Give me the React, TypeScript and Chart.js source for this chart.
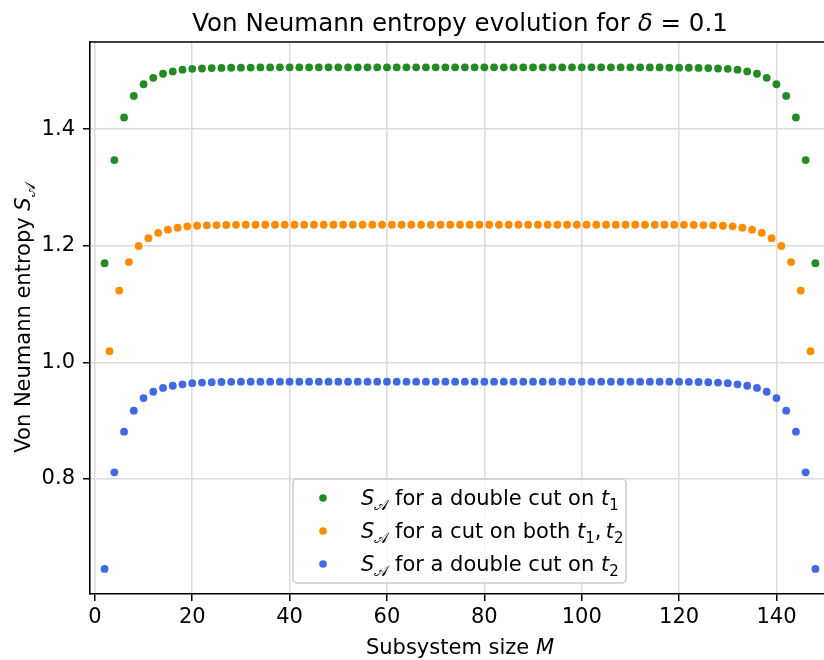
import React, { useEffect, useRef } from "react";
import { Chart, registerables } from "chart.js";
Chart.register(...registerables);

// Subsystem sizes M
const EVEN_M = [2, 4, 6, 8, 10, 12, 14, 16, 18, 20, 22, 24, 26, 28, 30, 32, 34, 36, 38, 40, 42, 44, 46, 48, 50, 52, 54, 56, 58, 60, 62, 64, 66, 68, 70, 72, 74, 76, 78, 80, 82, 84, 86, 88, 90, 92, 94, 96, 98, 100, 102, 104, 106, 108, 110, 112, 114, 116, 118, 120, 122, 124, 126, 128, 130, 132, 134, 136, 138, 140, 142, 144, 146, 148];
const ODD_M = [3, 5, 7, 9, 11, 13, 15, 17, 19, 21, 23, 25, 27, 29, 31, 33, 35, 37, 39, 41, 43, 45, 47, 49, 51, 53, 55, 57, 59, 61, 63, 65, 67, 69, 71, 73, 75, 77, 79, 81, 83, 85, 87, 89, 91, 93, 95, 97, 99, 101, 103, 105, 107, 109, 111, 113, 115, 117, 119, 121, 123, 125, 127, 129, 131, 133, 135, 137, 139, 141, 143, 145, 147];

// S_A for a double cut on t1 (at EVEN_M)
const DOUBLE_CUT_T1 = [
  1.170, 1.347, 1.420, 1.457, 1.477, 1.488, 1.495, 1.499, 1.502, 1.5035, 1.504, 1.5047, 1.505, 1.5053, 1.5055, 1.5057, 1.5058, 1.5059,
  1.506, 1.506, 1.506, 1.506, 1.506, 1.506, 1.506, 1.506, 1.506, 1.506, 1.506, 1.506, 1.506, 1.506, 1.506, 1.506, 1.506, 1.506, 1.506,
  1.506, 1.506, 1.506, 1.506, 1.506, 1.506, 1.506, 1.506, 1.506, 1.506, 1.506, 1.506, 1.506, 1.506, 1.506, 1.506, 1.506, 1.506, 1.506,
  1.5059, 1.5058, 1.5057, 1.5055, 1.5053, 1.505, 1.5047, 1.504, 1.5035, 1.502, 1.499, 1.495, 1.488, 1.477, 1.457, 1.420, 1.347, 1.170,
];

// S_A for a cut on both t1, t2 (at ODD_M)
const CUT_BOTH = [
  1.019, 1.123, 1.172, 1.1995, 1.213, 1.2222, 1.2275, 1.231, 1.2332, 1.2343, 1.235, 1.2354, 1.2357, 1.2359,
  1.236, 1.236, 1.236, 1.236, 1.236, 1.236, 1.236, 1.236, 1.236, 1.236, 1.236, 1.236, 1.236, 1.236, 1.236, 1.236, 1.236, 1.236, 1.236, 1.236, 1.236, 1.236, 1.236,
  1.236, 1.236, 1.236, 1.236, 1.236, 1.236, 1.236, 1.236, 1.236, 1.236, 1.236, 1.236, 1.236, 1.236, 1.236, 1.236, 1.236, 1.236, 1.236, 1.236, 1.236, 1.236,
  1.2359, 1.2357, 1.2354, 1.235, 1.2343, 1.2332, 1.231, 1.2275, 1.2222, 1.213, 1.1995, 1.172, 1.123, 1.019,
];

// S_A for a double cut on t2 (at EVEN_M)
const DOUBLE_CUT_T2 = [
  0.6455, 0.8113, 0.881, 0.917, 0.9387, 0.9495, 0.956, 0.9598, 0.9622, 0.9642, 0.9652, 0.9658, 0.9662, 0.9665,
  0.9667, 0.9667, 0.9667, 0.9667, 0.9667, 0.9667, 0.9667, 0.9667, 0.9667, 0.9667, 0.9667, 0.9667, 0.9667, 0.9667, 0.9667, 0.9667, 0.9667, 0.9667, 0.9667, 0.9667, 0.9667, 0.9667, 0.9667,
  0.9667, 0.9667, 0.9667, 0.9667, 0.9667, 0.9667, 0.9667, 0.9667, 0.9667, 0.9667, 0.9667, 0.9667, 0.9667, 0.9667, 0.9667, 0.9667, 0.9667, 0.9667, 0.9667, 0.9667, 0.9667, 0.9667, 0.9667,
  0.9665, 0.9662, 0.9658, 0.9652, 0.9642, 0.9622, 0.9598, 0.956, 0.9495, 0.9387, 0.917, 0.881, 0.8113, 0.6455,
];

const X_TICKS = [0, 20, 40, 60, 80, 100, 120, 140];
const Y_TICKS = [0.8, 1.0, 1.2, 1.4];
const Y_TICK_LABELS = ["0.8", "1.0", "1.2", "1.4"];

const GREEN = "#228b22";
const ORANGE = "#ff8c00";
const BLUE = "#4169e1";
const FONT = "'DejaVu Sans', 'Noto Sans', sans-serif";

type Seg = { t: string; it?: boolean; sub?: boolean };

function drawRich(ctx: CanvasRenderingContext2D, segs: Seg[], x: number, y: number, size: number, align: "left" | "center") {
  const fontOf = (s: Seg) => `${s.it ? "italic " : ""}${s.sub ? Math.round(size * 0.7) : size}px ${FONT}`;
  const widths = segs.map((s) => {
    ctx.font = fontOf(s);
    return ctx.measureText(s.t).width;
  });
  const total = widths.reduce((a, b) => a + b, 0);
  let cx = align === "center" ? x - total / 2 : x;
  ctx.textAlign = "left";
  ctx.textBaseline = "alphabetic";
  segs.forEach((s, i) => {
    ctx.font = fontOf(s);
    ctx.fillText(s.t, cx, y + (s.sub ? size * 0.22 : 0));
    cx += widths[i];
  });
}

const LEGEND_LABELS: Seg[][] = [
  [{ t: "S", it: true }, { t: "𝒜", sub: true }, { t: " for a double cut on " }, { t: "t", it: true }, { t: "1", sub: true }],
  [{ t: "S", it: true }, { t: "𝒜", sub: true }, { t: " for a cut on both " }, { t: "t", it: true }, { t: "1", sub: true }, { t: ",\u2009" }, { t: "t", it: true }, { t: "2", sub: true }],
  [{ t: "S", it: true }, { t: "𝒜", sub: true }, { t: " for a double cut on " }, { t: "t", it: true }, { t: "2", sub: true }],
];
const LEGEND_COLORS = [GREEN, ORANGE, BLUE];

const decorPlugin = {
  id: "decor",
  afterDraw(chart: any) {
    const ctx: CanvasRenderingContext2D = chart.ctx;
    const a = chart.chartArea;
    ctx.save();
    // top spine
    ctx.strokeStyle = "#000";
    ctx.lineWidth = 1.6;
    ctx.beginPath();
    ctx.moveTo(a.left - 0.8, a.top);
    ctx.lineTo(a.right + 0.8, a.top);
    ctx.stroke();
    ctx.fillStyle = "#000";
    // title
    drawRich(ctx, [{ t: "Von Neumann entropy evolution for " }, { t: "δ", it: true }, { t: " = 0.1" }], 460, 31, 24.5, "center");
    // x label
    drawRich(ctx, [{ t: "Subsystem size " }, { t: "M", it: true }], 460, 654, 21, "center");
    // y label
    ctx.save();
    ctx.translate(30, (a.top + a.bottom) / 2);
    ctx.rotate(-Math.PI / 2);
    drawRich(ctx, [{ t: "Von Neumann entropy " }, { t: "S", it: true }, { t: "𝒜", sub: true }], 0, 0, 21, "center");
    ctx.restore();
    // legend
    const lx = 293, ly = 479, lw = 333, lh = 104;
    ctx.beginPath();
    (ctx as any).roundRect(lx, ly, lw, lh, 4);
    ctx.fillStyle = "rgba(255,255,255,0.8)";
    ctx.fill();
    ctx.strokeStyle = "#cccccc";
    ctx.lineWidth = 1.5;
    ctx.stroke();
    const rows = [498, 531, 564];
    rows.forEach((ry, i) => {
      ctx.beginPath();
      ctx.arc(323, ry, 3.8, 0, Math.PI * 2);
      ctx.fillStyle = LEGEND_COLORS[i];
      ctx.fill();
      ctx.fillStyle = "#000";
      drawRich(ctx, LEGEND_LABELS[i], 361, ry + 7, 21, "left");
    });
    ctx.restore();
  },
};

export default function App() {
  const ref = useRef<HTMLCanvasElement>(null);
  useEffect(() => {
    document.body.style.margin = "0";
    const mk = (xs: number[], ys: number[]) => xs.map((x, i) => ({ x, y: ys[i] }));
    const chart = new Chart(ref.current!, {
      type: "scatter",
      data: {
        datasets: [
          { label: "double cut t1", data: mk(EVEN_M, DOUBLE_CUT_T1), backgroundColor: GREEN, pointRadius: 3.9, pointBorderWidth: 0 },
          { label: "cut both", data: mk(ODD_M, CUT_BOTH), backgroundColor: ORANGE, pointRadius: 3.9, pointBorderWidth: 0 },
          { label: "double cut t2", data: mk(EVEN_M, DOUBLE_CUT_T2), backgroundColor: BLUE, pointRadius: 3.9, pointBorderWidth: 0 },
        ],
      },
      options: {
        responsive: false,
        animation: false,
        devicePixelRatio: 1,
        layout: { padding: { top: 42, left: 0, right: 10, bottom: 0 } },
        plugins: { legend: { display: false }, title: { display: false }, tooltip: { enabled: false } },
        events: [],
        scales: {
          x: {
            type: "linear",
            min: -1,
            max: 151,
            afterBuildTicks: (s: any) => {
              s.ticks = X_TICKS.map((v) => ({ value: v }));
            },
            afterFit: (s: any) => {
              s.height = 66;
            },
            ticks: { font: { family: FONT, size: 21 }, color: "#000", padding: 4, maxRotation: 0, autoSkip: false, callback: (v: any) => String(v) },
            grid: { color: "#dcdcdc", lineWidth: 1.5, tickColor: "#000", tickLength: 7, tickWidth: 1.5, drawTicks: true },
            border: { color: "#000", width: 1.6 },
          },
          y: {
            type: "linear",
            min: 0.6025,
            max: 1.5495,
            afterBuildTicks: (s: any) => {
              s.ticks = Y_TICKS.map((v) => ({ value: v }));
            },
            afterFit: (s: any) => {
              s.width = 90;
            },
            ticks: { font: { family: FONT, size: 21 }, color: "#000", padding: 8, autoSkip: false, callback: (_v: any, i: number) => Y_TICK_LABELS[i] },
            grid: { color: "#dcdcdc", lineWidth: 1.5, tickColor: "#000", tickLength: 7, tickWidth: 1.5, drawTicks: true },
            border: { color: "#000", width: 1.6 },
          },
        },
      } as any,
      plugins: [decorPlugin],
    });
    return () => chart.destroy();
  }, []);
  return (
    <div style={{ position: "absolute", left: 0, top: 0, width: 824, height: 660, overflow: "hidden", background: "#fff" }}>
      <canvas ref={ref} width={840} height={660} style={{ display: "block", width: 840, height: 660 }} />
    </div>
  );
}
